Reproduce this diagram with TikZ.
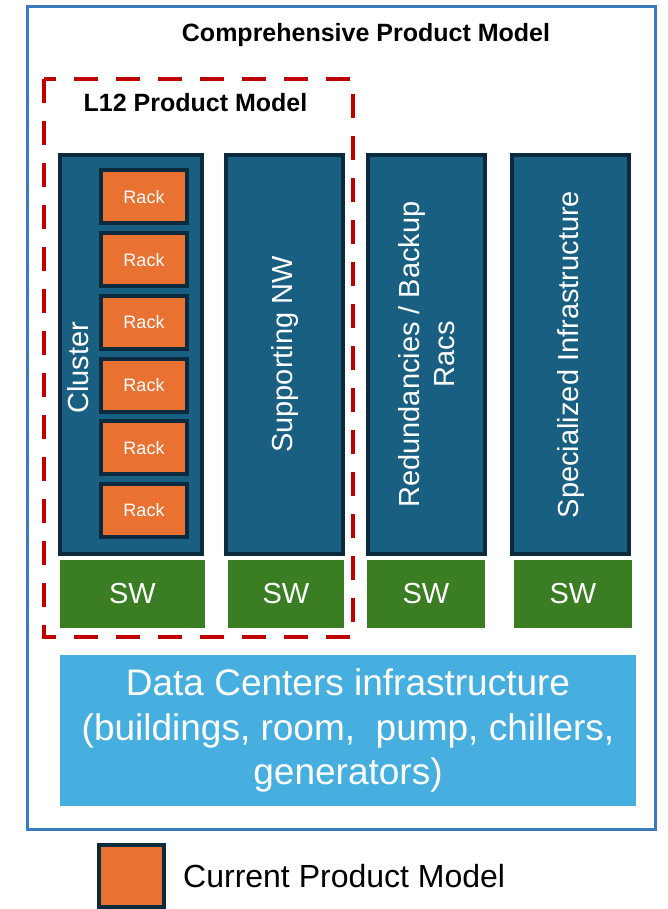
\documentclass[tikz,border=0pt]{standalone}
\usepackage{fontspec}
\setmainfont{Liberation Sans}
\definecolor{frameblue}{HTML}{3A7BBF}
\definecolor{l12red}{HTML}{C00000}
\definecolor{colteal}{HTML}{185F82}
\definecolor{colnavy}{HTML}{0C2A3E}
\definecolor{rackorange}{HTML}{E97132}
\definecolor{swgreen}{HTML}{3B7D23}
\definecolor{dcblue}{HTML}{47AFE0}
\begin{document}
\begin{tikzpicture}[x=1pt,y=-1pt,
    colbox/.style={draw=colnavy, line width=4pt, fill=colteal, minimum width=117pt, minimum height=399pt},
    rackbox/.style={draw=colnavy, line width=4pt, fill=rackorange, minimum width=86pt, minimum height=53pt,
      text=white, font=\fontsize{18}{21}\selectfont},
    swbox/.style={fill=swgreen, minimum height=68pt, text=white, font=\fontsize{29}{35}\selectfont},
    coltext/.style={rotate=90, align=center, text=white, font=\fontsize{29}{35}\selectfont},
    headtext/.style={font=\fontsize{25}{30}\selectfont\bfseries}]
  \useasboundingbox (0,0) rectangle (667,909);
  % outer frame and L12 border
  \draw[frameblue, line width=3pt] (27.5,6.5) rectangle (655.5,829.5);
  \draw[l12red, line width=4pt, dash pattern=on 24pt off 18pt] (44,79) rectangle (353,637);
  \node[headtext] (title) at (366,35) {Comprehensive Product Model};
  \node[headtext] (l12) at (195.5,102.5) {L12 Product Model};
  % columns
  \node[colbox, minimum width=142pt] (cluster) at (131,354.5) {};
  \node[colbox] (suppnw) at (284.5,354.5) {};
  \node[colbox] (redund) at (426.5,354.5) {};
  \node[colbox] (special) at (570.5,354.5) {};
  \node[coltext] (clusterlbl) at (78,368) {Cluster};
  \node[coltext] (suppnwlbl) at (suppnw) {Supporting NW};
  \node[coltext] (redundlbl) at (redund) {Redundancies / Backup\\Racs};
  \node[coltext] (speciallbl) at (special) {Specialized Infrastructure};
  \foreach \i in {1,...,6}
    \node[rackbox] (rack\i) at (144,134.3+62.7*\i) {Rack};
  % SW row
  \node[swbox, minimum width=145pt] (sw1) at (132.5,594) {SW};
  \node[swbox, minimum width=116pt] (sw2) at (286,594) {SW};
  \node[swbox, minimum width=118pt] (sw3) at (426,594) {SW};
  \node[swbox, minimum width=118pt] (sw4) at (573,594) {SW};
  % data centers
  \node[fill=dcblue, minimum width=576pt, minimum height=151pt, align=center, text=white,
    font=\fontsize{37}{44.5}\selectfont] (dc) at (348,730.5)
    {Data Centers infrastructure\\(buildings, room,\ \ pump, chillers,\\generators)};
  % legend
  \node[rackbox, minimum width=65pt, minimum height=62pt] (legbox) at (131.5,876) {};
  \node[anchor=west, inner sep=0pt, font=\fontsize{32}{38}\selectfont] (legtext) at (183,876) {Current Product Model};
\end{tikzpicture}
\end{document}
